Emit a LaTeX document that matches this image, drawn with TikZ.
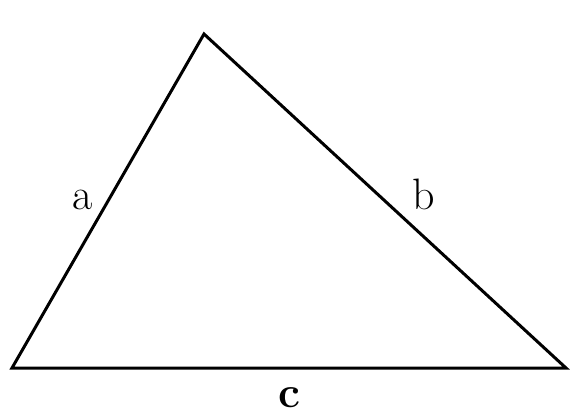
\documentclass[tikz,border=0pt]{standalone}
\begin{document}
\begin{tikzpicture}[x=0.5pt,y=-0.5pt,
  edge/.style={line width=1.5pt,line join=miter},
  lbl/.style={font=\fontsize{22}{26}\selectfont,anchor=base,inner sep=0pt}]
\useasboundingbox (0,0) rectangle (579,418);
\coordinate (T) at (204,34);
\coordinate (L) at (12,368);
\coordinate (R) at (566,368);
\draw[edge] (T) -- (L) -- (R) -- cycle;
\node[lbl] (a) at (83,209) {a};
\node[lbl] (b) at (424,209) {b};
\node[lbl] (c) at (289,407) {\bfseries c};
\end{tikzpicture}
\end{document}
